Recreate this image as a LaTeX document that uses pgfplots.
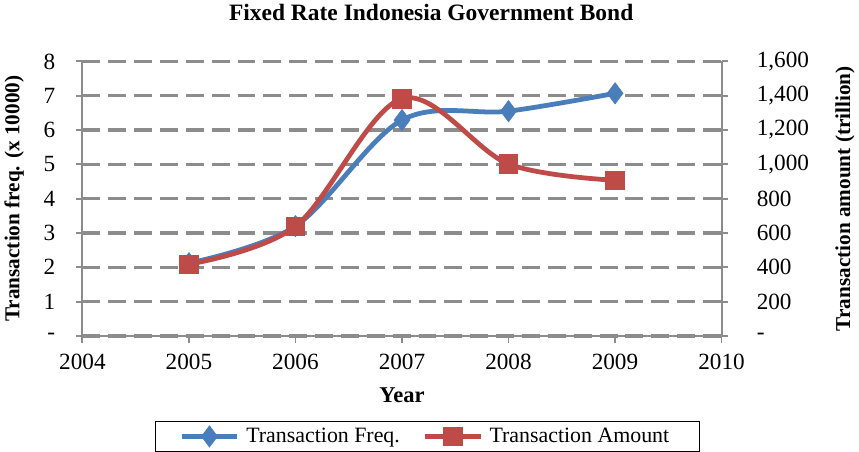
\documentclass[border=0pt]{standalone}
\usepackage{pgfplots}
\pgfplotsset{compat=1.18}
\usepackage{fontspec}
\setmainfont{Liberation Serif}
\definecolor{freqblue}{HTML}{4A7EBB}
\definecolor{amtred}{HTML}{BE4B48}
\definecolor{gridgray}{HTML}{8C8C8C}

\begin{document}
\begin{tikzpicture}
\pgfplotsset{
  every axis/.style={
    scale only axis, width=482pt, height=207pt,
    xmin=2004, xmax=2010,
    tick label style={font=\fontsize{17.5}{19}\selectfont},
    label style={font=\bfseries\fontsize{17}{19}\selectfont},
    axis line style={gridgray, line width=1.4pt},
    major tick style={gridgray, line width=1.4pt},
    tick align=outside, major tick length=5pt,
  },
}
\begin{axis}[
  axis x line*=bottom, axis y line*=left,
  ymin=0, ymax=8, ytick={0,1,...,8},
  yticklabels={\textrm{-},\textrm{1},\textrm{2},\textrm{3},\textrm{4},\textrm{5},\textrm{6},\textrm{7},\textrm{8}},
  yticklabel style={xshift=-12pt},
  xtick={2004,...,2010},
  xticklabels={\textrm{2004},\textrm{2005},\textrm{2006},\textrm{2007},\textrm{2008},\textrm{2009},\textrm{2010}},
  xticklabel style={yshift=-5pt},
  ymajorgrids, grid style={gridgray, line width=2.6pt, dash pattern=on 13.5pt off 6pt},
  xlabel={Year}, ylabel={Transaction freq. (x 10000)},
  xlabel style={yshift=-7pt},
  ylabel style={font=\bfseries\fontsize{16}{18}\selectfont, yshift=8pt},
  title={Fixed Rate Indonesia Government Bond},
  title style={font=\bfseries\fontsize{17.7}{20}\selectfont, yshift=21pt, xshift=22pt},
  legend style={at={(0.54,-0.31)}, anchor=north, legend columns=2, draw=black, line width=0.8pt,
    font=\fontsize{16.5}{18}\selectfont, inner xsep=18pt, inner ysep=3pt,
    nodes={inner xsep=5pt},
    /tikz/every even column/.append style={column sep=12pt}},
  legend image code/.code={
    \draw[#1, mark repeat=2, mark phase=2] plot coordinates {(0pt,0pt) (21pt,0pt) (42pt,0pt)};},
]
\addplot[freqblue, line width=3.6pt, smooth, tension=0.55, mark=diamond*,
  mark size=8pt, mark options={solid, line width=0.5pt, fill=freqblue}]
  coordinates {(2005,2.12) (2006,3.20) (2007,6.29) (2008,6.55) (2009,7.07)};
\addlegendentry{Transaction Freq.}
\addlegendimage{amtred, line width=3.6pt, mark=square*, mark size=7pt, mark options={solid, line width=0.5pt, fill=amtred}}
\addlegendentry{Transaction Amount}
\end{axis}
\begin{axis}[
  axis x line=none, axis y line*=right,
  ymin=0, ymax=1600, ytick={0,200,...,1600},
  yticklabels={\textrm{-},\textrm{200},\textrm{400},\textrm{600},\textrm{800},\textrm{1,000},\textrm{1,200},\textrm{1,400},\textrm{1,600}},
  yticklabel style={xshift=18pt},
  ylabel={Transaction amount (trillion)},
  ylabel style={font=\bfseries\fontsize{16}{18}\selectfont, yshift=-13pt},
]
\addplot[amtred, line width=3.6pt, smooth, tension=0.55, mark=square*,
  mark size=7pt, mark options={solid, line width=0.5pt, fill=amtred}]
  coordinates {(2005,418) (2006,639) (2007,1383) (2008,1002) (2009,907)};
\end{axis}
\end{tikzpicture}
\end{document}
